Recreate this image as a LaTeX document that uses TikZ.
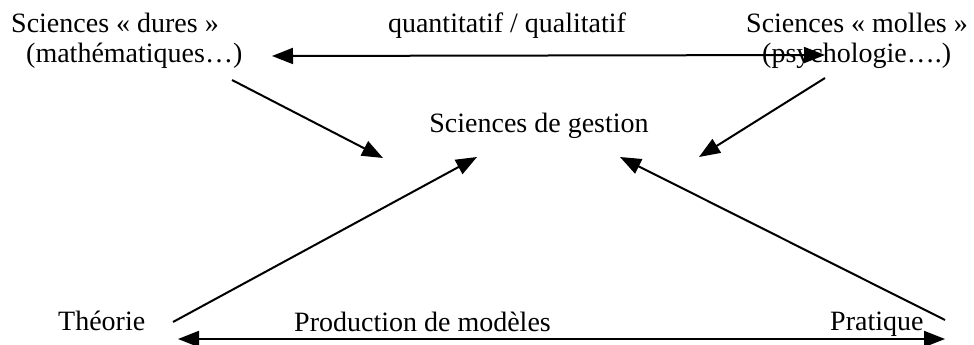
\documentclass[tikz,border=0pt]{standalone}
\usepackage{fontspec}
\setmainfont{Liberation Serif}
\usepackage{tikz}
\usetikzlibrary{arrows.meta}

\begin{document}
\begin{tikzpicture}[x=1pt,y=-1pt]
% \tikzstyle{every path}=[very thick]

\tikzstyle{label}=[inner sep=0pt,font=\fontsize{28}{30}\selectfont]
\tikzstyle{fleche}=[line width=2pt,-{Triangle[length=21pt,width=16pt]}]
\tikzstyle{double fleche}=[line width=2pt,{Triangle[length=21pt,width=16pt]}-{Triangle[length=21pt,width=16pt]}]

\useasboundingbox (0,0) rectangle (974,345);

%% Top row
\node [label,anchor=base west,align=left] (dures) at (11,63) {Sciences « dures »\\\hspace*{15pt}(mathématiques…)};
\node [label,anchor=base] (quali) at (507,33) {quantitatif / qualitatif};
\node [label,anchor=base west,align=left] (molles) at (746,63) {Sciences « molles »\\\hspace*{16pt}(psychologie….)};

%% Centre
\node [label,anchor=base] (gestion) at (539,132) {Sciences de gestion};

%% Bottom row
\node [label,anchor=base west] (theorie) at (58,330) {Théorie};
\node [label,anchor=base west] (production) at (294,331) {Production de modèles};
\node [label,anchor=base west] (pratique) at (830,330) {Pratique};

%% Arrow ends
\coordinate (qual-l) at (272,56);
\coordinate (qual-r) at (825,55);
\coordinate (dures-o) at (232,80);
\coordinate (dures-i) at (383,158);
\coordinate (molles-o) at (825,78);
\coordinate (molles-i) at (699,157);
\coordinate (theo-o) at (173,322);
\coordinate (theo-i) at (477,157);
\coordinate (prat-o) at (945,320);
\coordinate (prat-i) at (620,157);
\coordinate (prod-l) at (178,339);
\coordinate (prod-r) at (945,339);

\draw [double fleche] (qual-l) -- (qual-r);
\draw [fleche] (dures-o) -- (dures-i);
\draw [fleche] (molles-o) -- (molles-i);
\draw [fleche] (theo-o) -- (theo-i);
\draw [fleche] (prat-o) -- (prat-i);
\draw [double fleche] (prod-l) -- (prod-r);

\end{tikzpicture}
\end{document}
